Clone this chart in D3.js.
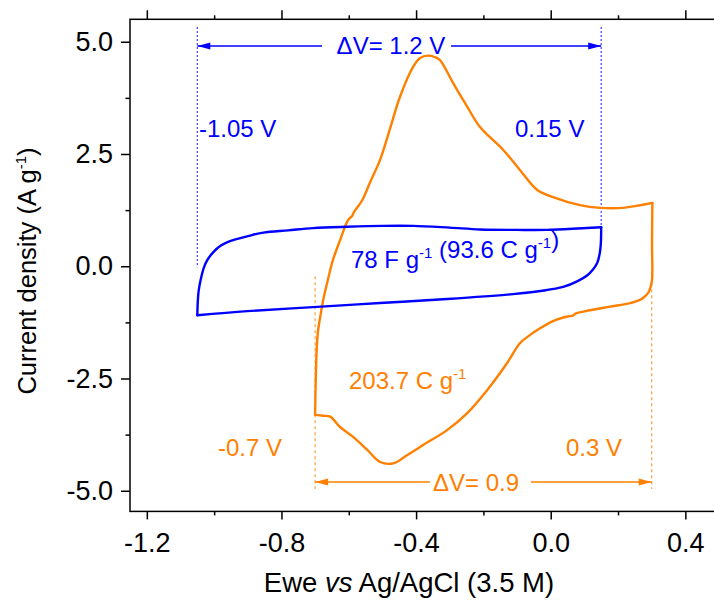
<!DOCTYPE html>
<html>
<head>
<meta charset="utf-8">
<script src="https://cdn.jsdelivr.net/npm/d3@7"></script>
<style>
  body { margin: 0; background: #fff; }
  text { font-family: "Liberation Sans", Arial, sans-serif; }
</style>
</head>
<body>
<div id="chart"></div>
<script>
// CV of the blue electrode (-1.05 V .. 0.15 V), potential in V, current in A/g
const blueE = [-1.050, -1.049, -1.046, -1.040, -1.030, -1.020, -1.003, -0.980, -0.953, -0.900,
  -0.854, -0.780, -0.706, -0.605, -0.500, -0.409, -0.300, -0.210, -0.100, -0.011,
  0.080, 0.150, 0.149, 0.146, 0.138, 0.125, 0.109, 0.080, 0.037, -0.030,
  -0.112, -0.308, -0.507, -0.706, -0.902, -1.050];
const blueJ = [-1.09, -0.85, -0.55, -0.30, -0.02, 0.14, 0.31, 0.46, 0.56, 0.67,
  0.75, 0.80, 0.85, 0.88, 0.90, 0.90, 0.86, 0.82, 0.81, 0.81,
  0.84, 0.87, 0.52, 0.30, 0.07, -0.08, -0.20, -0.33, -0.46, -0.55,
  -0.62, -0.73, -0.82, -0.91, -1.00, -1.09];

// CV of the orange electrode (-0.7 V .. 0.3 V)
const orangeE = [-0.700, -0.698, -0.695, -0.691, -0.683, -0.676, -0.662, -0.647, -0.625, -0.602,
  -0.590, -0.585, -0.560, -0.535, -0.507, -0.478, -0.448, -0.409, -0.388, -0.364,
  -0.345, -0.329, -0.290, -0.250, -0.210, -0.141, -0.091, -0.040, 0.007, 0.087,
  0.147, 0.215, 0.302, 0.301, 0.301, 0.296, 0.289, 0.277, 0.265, 0.236,
  0.176, 0.117, 0.075, 0.066, 0.050, 0.007, -0.040, -0.065, -0.091, -0.130,
  -0.189, -0.248, -0.308, -0.379, -0.427, -0.468, -0.507, -0.545, -0.587, -0.626,
  -0.655, -0.676, -0.700];
const orangeJ = [-3.31, -2.50, -1.80, -1.42, -1.05, -0.75, -0.30, 0.14, 0.60, 1.03,
  1.12, 1.20, 1.47, 1.90, 2.37, 3.05, 3.77, 4.44, 4.64, 4.69,
  4.66, 4.59, 4.08, 3.58, 3.10, 2.59, 2.14, 1.70, 1.54, 1.36,
  1.30, 1.30, 1.41, 0.50, -0.31, -0.48, -0.60, -0.69, -0.75, -0.82,
  -0.90, -0.98, -1.05, -1.10, -1.12, -1.22, -1.42, -1.55, -1.71, -2.16,
  -2.76, -3.27, -3.65, -3.98, -4.21, -4.39, -4.36, -4.09, -3.80, -3.58,
  -3.35, -3.33, -3.31];

const xTicks = [-1.2, -0.8, -0.4, 0.0, 0.4];
const xMinor = [-1.0, -0.6, -0.2, 0.2];
const yTicks = [-5.0, -2.5, 0.0, 2.5, 5.0];
const yMinor = [-3.75, -1.25, 1.25, 3.75];

const width = 714, height = 600;
const blue = "#0000ff", orange = "#ff8000";

const svg = d3.select("#chart").append("svg")
  .attr("width", width)
  .attr("height", height);

// scales (frame runs off the right edge of the picture)
const x = d3.scaleLinear().domain([-1.25, 0.5]).range([130, 719]);
const y = d3.scaleLinear().domain([-5.46, 5.5]).range([511.4, 19.3]);

const fmt = d => d.toFixed(1);
const tidy = g => {
  g.select(".domain").remove();
  g.selectAll("line").attr("stroke", "#000").attr("stroke-width", 1.5);
  g.selectAll("text").style("font-size", "27px").attr("fill", "#000");
};

// bottom axis
svg.append("g").attr("transform", `translate(0,${y(-5.46)})`)
  .call(d3.axisBottom(x).tickValues(xTicks).tickSize(8).tickPadding(13).tickFormat(fmt))
  .call(tidy);
svg.append("g").attr("transform", `translate(0,${y(-5.46)})`)
  .call(d3.axisBottom(x).tickValues(xMinor).tickSize(4).tickFormat(""))
  .call(tidy);
// top axis (ticks only)
svg.append("g").attr("transform", `translate(0,${y(5.5)})`)
  .call(d3.axisTop(x).tickValues(xTicks).tickSize(9).tickFormat(""))
  .call(tidy);
svg.append("g").attr("transform", `translate(0,${y(5.5)})`)
  .call(d3.axisTop(x).tickValues(xMinor).tickSize(4).tickFormat(""))
  .call(tidy);
// left axis
svg.append("g").attr("transform", `translate(${x(-1.25)},0)`)
  .call(d3.axisLeft(y).tickValues(yTicks).tickSize(9).tickPadding(8).tickFormat(fmt))
  .call(tidy);
svg.append("g").attr("transform", `translate(${x(-1.25)},0)`)
  .call(d3.axisLeft(y).tickValues(yMinor).tickSize(4.5).tickFormat(""))
  .call(tidy);

// frame
svg.append("rect")
  .attr("x", x(-1.25)).attr("y", y(5.5))
  .attr("width", x(0.5) - x(-1.25)).attr("height", y(-5.46) - y(5.5))
  .attr("fill", "none").attr("stroke", "#000").attr("stroke-width", 1.5);

// axis titles
svg.append("text")
  .attr("x", 409).attr("y", 592)
  .attr("text-anchor", "middle")
  .style("font-size", "27.5px")
  .html('Ewe <tspan font-style="italic">vs</tspan> Ag/AgCl (3.5 M)');

const yt = svg.append("text")
  .attr("transform", "translate(36,271) rotate(-90)")
  .attr("text-anchor", "middle")
  .style("font-size", "25.5px");
yt.append("tspan").text("Current density (A g");
yt.append("tspan").attr("dy", -10).style("font-size", "15px").text("-1");
yt.append("tspan").attr("dy", 10).text(")");

// guide lines
const vline = (xv, y1, y2, color, dash) => svg.append("line")
  .attr("x1", x(xv)).attr("x2", x(xv)).attr("y1", y(y1)).attr("y2", y(y2))
  .attr("stroke", color).attr("stroke-width", 1.2).attr("stroke-opacity", 0.75)
  .attr("stroke-dasharray", dash);

vline(-1.05, 5.33, -0.02, blue, "2,2");
vline(0.15, 5.33, 0.51, blue, "2,2");
vline(-0.7, -0.22, -4.96, orange, "3,3");
vline(0.3, -0.11, -4.96, orange, "3,3");

// double arrows with a gap for the label
const arrow = (x1, x2, py, gapL, gapR, color) => {
  const g = svg.append("g");
  g.append("line").attr("x1", x(x1)).attr("x2", gapL).attr("y1", py).attr("y2", py)
    .attr("stroke", color).attr("stroke-width", 1.5);
  g.append("line").attr("x1", gapR).attr("x2", x(x2)).attr("y1", py).attr("y2", py)
    .attr("stroke", color).attr("stroke-width", 1.5);
  const a = x(x1), b = x(x2);
  g.append("path").attr("d", `M${a},${py} L${a + 13},${py - 3.5} L${a + 13},${py + 3.5} Z`).attr("fill", color);
  g.append("path").attr("d", `M${b},${py} L${b - 13},${py - 3.5} L${b - 13},${py + 3.5} Z`).attr("fill", color);
};
arrow(-1.05, 0.15, 46, 322, 451, blue);
arrow(-0.7, 0.3, 482, 430, 531, orange);

// curves: split each loop at the switching potential so the corner stays sharp
const line = d3.line().curve(d3.curveCatmullRom.alpha(0.5));
const drawLoop = (E, J, color) => {
  const pts = E.map((e, i) => [x(e), y(J[i])]);
  const k = d3.maxIndex(E);
  [pts.slice(0, k + 1), pts.slice(k)].forEach(seg => {
    svg.append("path").attr("d", line(seg))
      .attr("fill", "none").attr("stroke", color).attr("stroke-width", 2.4)
      .attr("stroke-linejoin", "round").attr("stroke-linecap", "round");
  });
};
drawLoop(orangeE, orangeJ, orange);
drawLoop(blueE, blueJ, blue);

// annotations; parts are plain strings or {up: "..."} for superscripts
const label = (px, py, anchor, color, parts) => {
  const t = svg.append("text").attr("x", px).attr("y", py)
    .attr("text-anchor", anchor).attr("fill", color).style("font-size", "24px");
  parts.forEach(p => {
    if (typeof p === "object") {
      t.append("tspan").attr("dy", -10).style("font-size", "15px").text(p.up);
      t.append("tspan").attr("dy", 10).text("");
    } else {
      t.append("tspan").text(p);
    }
  });
};
label(199, 137, "start", blue, ["-1.05 V"]);
label(515, 137, "start", blue, ["0.15 V"]);
label(391, 54, "middle", blue, ["\u0394V= 1.2 V"]);
label(351, 268, "start", blue, ["78 F g", {up: "-1"}, " (93.6 C g", {up: "-1"}, ")"]);
label(349, 389, "start", orange, ["203.7 C g", {up: "-1"}]);
label(218, 456, "start", orange, ["-0.7 V"]);
label(566, 456, "start", orange, ["0.3 V"]);
label(476, 491, "middle", orange, ["\u0394V= 0.9"]);
</script>
</body>
</html>
